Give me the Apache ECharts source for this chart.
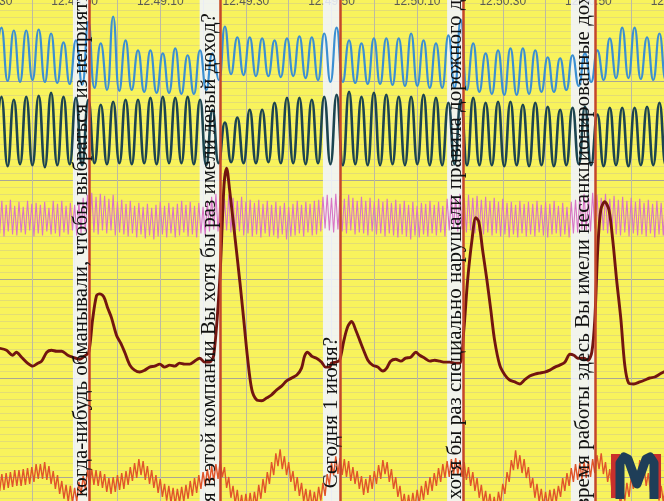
<!DOCTYPE html>
<html><head><meta charset="utf-8">
<script src="https://cdn.jsdelivr.net/npm/echarts@6/dist/echarts.min.js"></script>
<style>html,body{margin:0;padding:0;background:#f8f35c;overflow:hidden}#c{width:664px;height:501px}</style>
</head><body><div id="c"></div>
<script>
// ---- data (seconds after 12:48:00, channel values in chart units) ----
const timeLabels = ['12.48.30','12.48.50','12.49.10','12.49.30','12.49.50','12.50.10','12.50.30','12.50.50','12.51.10'];

const breathStart = 31.45, breathStep = 1.45;
const upperBreath = [
50.1,55.4,50.0,55.1,49.9,55.1,50.1,55.2,49.9,54.8,
49.8,53.9,49.7,54.1,49.6,56.0,49.3,53.8,49.1,56.5,
49.0,54.1,49.1,53.1,48.9,53.1,48.8,52.8,48.8,53.3,
48.7,52.6,48.7,53.1,49.1,52.8,50.1,55.5,50.7,54.4,
50.6,54.4,50.5,54.3,50.5,54.1,50.4,54.3,50.5,54.5,
50.3,54.4,50.1,54.8,49.9,55.4,49.9,54.1,49.8,53.8,
49.7,54.3,49.7,54.3,49.6,54.3,49.5,54.8,49.5,54.1,
49.3,53.8,49.3,54.6,49.3,56.2,49.1,53.8,48.9,52.8,
48.7,53.1,48.6,53.3,48.6,53.3,48.7,53.1,48.9,52.4,
48.9,52.3,49.1,52.6,49.5,52.8,49.9,53.1,50.1,54.3,
50.3,55.4,50.3,55.4,50.2,54.4,50.1,54.8,50.1,54.6];
const lowerBreath = [
41.5,48.4,41.4,48.1,41.6,48.4,41.5,48.5,41.3,48.8,
41.5,48.4,41.6,48.3,41.5,48.1,41.7,47.6,41.6,47.9,
41.7,48.1,41.6,48.1,41.7,48.3,41.6,48.4,41.7,48.3,
41.7,48.4,41.6,48.1,41.5,47.1,41.7,45.8,41.8,46.3,
41.7,47.1,41.7,47.1,41.8,47.8,41.7,48.3,41.7,48.3,
41.6,48.1,41.7,48.4,41.6,48.6,41.5,48.9,41.6,48.4,
41.5,48.8,41.5,48.6,41.6,48.4,41.5,48.4,41.6,48.6,
41.5,48.3,41.5,47.8,41.6,48.1,41.5,48.3,41.5,47.8,
41.5,47.9,41.4,47.9,41.5,47.6,41.4,47.8,41.5,47.4,
41.4,47.1,41.5,47.3,41.6,47.4,41.5,46.6,41.4,47.3,
41.5,47.3,41.4,47.3,41.5,47.4,41.5,47.8,41.5,47.8];

const fastStart = 32, fastStep = 0.5;
const pulsePink = [
37.6,34.6,37.9,34.3,37.5,34.8,38.0,34.5,37.4,34.4,
37.8,34.7,37.3,34.5,37.9,34.9,37.6,34.3,37.7,34.6,
37.5,34.4,37.8,34.8,37.2,34.5,37.9,34.6,37.6,34.3,
37.9,34.7,37.4,34.5,37.7,34.9,37.5,34.4,37.8,34.6,
38.2,34.8,38.5,35.0,38.7,34.7,38.3,34.5,38.6,34.9,
38.4,34.6,38.1,34.9,38.5,34.4,37.8,34.7,38.0,34.5,
37.6,34.3,37.9,34.6,37.4,34.2,37.7,34.5,37.3,34.1,
37.6,34.4,37.2,34.0,37.5,34.3,37.8,34.5,37.4,34.2,
37.7,34.6,37.3,34.2,37.6,34.4,37.9,34.7,37.5,34.3,
37.8,34.5,37.4,34.2,37.7,34.6,37.3,34.4,37.9,34.8,
38.3,35.0,38.6,34.8,38.4,34.6,38.1,34.9,38.5,34.7,
38.2,34.5,37.9,34.8,38.3,34.4,37.8,34.6,38.0,34.3,
37.7,34.5,38.0,34.2,37.6,34.6,37.9,34.3,37.5,34.4,
37.8,34.1,37.4,34.5,37.7,34.0,37.3,34.3,37.6,34.4,
37.9,34.6,37.5,34.3,37.8,34.7,37.6,34.4,37.9,34.5,
38.0,34.8,38.3,35.1,38.5,34.9,38.2,34.7,38.6,35.0,
38.4,34.8,38.1,34.6,38.5,34.9,38.2,34.5,37.9,34.7,
38.3,34.6,37.9,34.4,38.2,34.8,37.8,34.5,38.1,34.6,
37.8,34.3,38.1,34.6,37.7,34.4,38.0,34.2,37.6,34.5,
37.9,34.3,37.5,34.0,37.8,34.4,37.4,34.2,37.7,34.5,
37.6,34.3,37.9,34.6,37.5,34.4,37.8,34.7,37.4,34.3,
38.1,34.9,38.5,35.1,38.3,34.8,38.6,35.0,38.2,34.7,
38.5,34.9,38.2,34.6,38.4,34.8,38.0,34.5,38.3,34.7,
37.9,34.4,38.2,34.6,37.8,34.3,38.1,34.5,37.7,34.2,
37.8,34.5,37.5,34.2,37.9,34.6,37.6,34.3,37.8,34.5,
37.6,34.3,37.9,34.7,37.5,34.4,37.8,34.2,37.6,34.5,
37.9,34.6,37.4,34.3,37.7,34.5,37.3,34.2,37.8,34.6,
38.0,34.7,38.4,35.0,38.6,34.9,38.3,34.8,38.7,35.1,
38.5,34.7,38.2,34.9,38.6,34.6,38.1,34.8,38.4,34.5,
38.0,34.4,38.3,34.7,37.9,34.3,38.2,34.6,37.8,34.4,
38.1,34.5,37.7,34.3,38.0,34.6,37.6,34.2,37.9,34.5,
37.7,34.4,38.0,34.6,37.8];
const pulseOrange = [
10.1,8.6,10.3,8.7,10.4,8.9,10.5,9.0,10.7,9.1,
10.7,9.1,10.8,9.2,10.9,9.3,11.0,9.5,11.3,9.8,
11.3,9.8,11.5,9.7,11.1,9.3,10.6,8.8,10.2,8.3,
9.6,7.8,9.2,7.5,9.1,7.4,8.9,7.5,9.5,8.2,
10.1,8.8,10.7,9.2,10.8,9.2,10.7,9.1,10.6,8.9,
10.3,8.5,9.9,8.3,10.0,8.5,10.2,8.7,10.4,8.8,
10.6,9.2,11.0,9.6,11.4,9.9,11.8,10.2,11.6,9.7,
11.1,9.3,10.7,8.9,10.2,8.4,9.8,8.0,9.3,7.6,
9.1,7.4,8.9,7.2,8.8,7.4,9.0,7.5,9.2,7.8,
9.6,8.1,9.9,8.4,10.2,8.8,10.5,9.1,10.8,9.4,
11.1,9.6,11.3,9.8,11.6,10.0,11.0,8.9,10.0,7.9,
9.1,7.3,8.7,6.8,8.2,6.6,8.3,6.7,8.4,6.8,
8.5,7.1,9.2,7.8,9.8,8.4,10.5,9.3,11.5,10.2,
12.4,11.1,12.8,10.8,12.1,10.2,11.5,9.5,10.6,8.6,
10.0,8.1,9.4,7.5,8.8,7.1,8.7,7.0,8.5,7.1,
9.0,7.6,9.4,8.1,10.3,9.2,11.4,10.2,12.1,10.3,
11.9,10.2,11.8,10.0,11.6,9.6,11.0,9.3,10.6,8.8,
10.1,8.2,9.8,8.4,10.2,8.8,10.6,9.3,11.2,9.8,
11.7,10.3,11.5,9.5,10.8,8.8,10.0,8.0,9.1,7.1,
8.3,6.6,8.2,6.7,8.4,6.9,8.7,7.3,9.1,7.7,
9.6,8.2,10.0,8.6,10.4,9.1,10.9,9.5,11.3,9.9,
11.6,10.0,11.8,10.2,11.9,10.2,11.7,10.0,11.5,9.7,
11.0,9.1,10.5,8.6,9.9,7.9,9.2,7.3,8.6,6.9,
8.3,6.6,8.0,6.6,8.5,7.3,9.3,8.3,10.5,9.5,
11.7,10.7,12.7,10.8,12.2,10.4,11.8,9.9,11.0,8.9,
9.9,7.9,9.3,7.5,8.8,7.0,8.5,7.0,8.7,7.2,
8.8,7.5,9.1,8.0,9.9,8.6,10.4,9.1,10.9,9.5,
11.3,9.7,11.4,9.8,11.5,9.9,11.6,10.0,11.8,10.4,
12.2,10.8,12.4,10.3,11.5,9.5,10.8,8.7,9.9,7.9,
8.9,7.1,8.9,7.6,9.4,8.0,10.0,8.8,10.8,9.6,
11.7,9.8,11.1,9.1,10.4,8.5,9.9,8.0,9.4,7.6,
9.1,7.5,9.1,7.4,9.0];

const gsrTime = [
32.5,34.1,35.5,36.4,37.6,39.0,40.2,41.4,42.3,43.5,
44.6,45.8,47.0,48.4,49.5,51.2,52.3,53.3,54.2,55.1,
55.8,56.8,57.7,58.6,59.8,60.8,61.7,62.9,64.0,65.2,
66.4,67.5,68.7,69.9,71.0,72.2,73.4,74.5,75.7,76.9,
78.0,79.2,80.4,81.5,82.5,83.9,84.9,85.5,86.2,87.4,
88.6,89.5,90.4,91.4,92.5,93.7,94.9,96.0,97.2,98.4,
99.5,100.7,101.9,103.0,103.7,104.4,105.4,106.5,107.7,108.6,
109.6,110.0,111.0,111.9,112.9,113.8,114.7,115.7,116.6,117.5,
118.5,119.6,120.8,122.0,122.9,123.8,125.0,126.2,127.3,128.5,
129.7,130.6,131.8,133.0,134.1,135.3,136.5,137.6,138.8,140.0,
140.9,141.8,142.8,143.7,144.4,145.3,146.3,147.2,148.1,149.3,
150.5,151.6,152.8,154.0,155.1,156.3,157.5,158.6,159.8,161.0,
162.2,163.3,164.5,165.7,166.6,167.5,168.9,169.9,170.8,171.5,
172.2,172.9,173.8,174.8,175.7,176.6,177.6,178.5,179.4,180.6,
182.0,183.2,184.3,185.5,186.7,187.6,189.0];
const gsrValue = [
23.0,22.8,22.3,22.6,22.1,21.5,21.2,21.5,21.7,22.6,
22.8,22.7,22.7,22.3,22.1,21.9,22.2,22.6,25.9,28.3,
28.5,28.2,27.1,26.1,24.3,23.5,22.6,21.3,20.8,20.6,
20.8,21.1,21.2,21.4,21.1,21.3,21.2,21.5,21.4,21.4,
21.7,22.0,21.6,21.6,22.3,29.9,39.5,41.2,39.0,34.4,
29.7,25.9,22.0,18.8,17.8,17.7,18.0,18.3,18.8,19.2,
19.7,20.0,20.3,21.0,22.2,22.6,22.2,22.0,21.6,21.1,
21.1,21.5,21.6,21.8,23.8,25.2,25.7,24.8,23.8,22.8,
21.8,21.3,21.1,20.7,21.0,21.7,21.9,21.7,22.0,22.1,
22.6,22.3,22.0,21.7,21.8,21.7,21.6,21.6,21.5,21.5,
24.8,29.9,33.9,36.2,35.8,32.9,29.9,26.9,23.8,21.3,
20.3,19.8,19.6,19.4,19.8,20.2,20.4,20.5,20.6,20.8,
21.1,21.3,21.6,22.4,22.3,22.0,22.0,21.8,22.6,25.9,
33.1,37.0,37.8,37.0,33.9,29.9,25.9,21.3,19.5,19.4,
19.6,19.8,20.0,20.1,20.4,20.6,20.9];

const eventStart = [49.6, 79.2, 108.0, 137.0, 165.9];
const eventMark = [53.4, 83.9, 112.0, 140.8, 171.6];
const questions = [
  'Вы когда-нибудь обманывали, чтобы выбраться из неприятностей?',
  'Работая в этой компании Вы хотя бы раз имели левый доход?',
  'Сегодня 1 июня?',
  'Вы хотя бы раз специально нарушали правила дорожного движения?',
  'За время работы здесь Вы имели несанкционированные доходы?'
];

// ---- layout for question captions (visible part placement) ----
const capPrefix = ['Вы ', 'Работая в этой компании ', 'Сегодня 1 июня?', 'Вы хотя бы раз ', 'За время работы здесь '];
const capPrefixEndY = [497, 335, 337, 392, 328];
const capFont = '21px "Liberation Serif", "DejaVu Serif", serif';

const seq = (start, step, arr) => arr.map((v, i) => [+(start + i * step).toFixed(3), v]);

const chart = echarts.init(document.getElementById('c'), null, {renderer: 'canvas'});
const lineBase = {type: 'line', symbol: 'none', showSymbol: false, silent: true, z: 2};
chart.setOption({
  animation: false,
  backgroundColor: '#f8f35c',
  grid: {left: -11, right: -10, top: -18, bottom: -75, containLabel: false, outerBoundsMode: 'none'},
  xAxis: {
    type: 'value', position: 'top', min: 30, max: 190, interval: 10,
    axisLine: {show: false}, axisTick: {show: false},
    axisLabel: {
      inside: true, margin: 14, color: '#5c5c52', fontSize: 12,
      fontFamily: '"Liberation Sans", Arial, sans-serif',
      showMinLabel: true, showMaxLabel: true,
      formatter: v => ((Math.round(v) - 30) % 20 === 0 ? (timeLabels[Math.round((v - 30) / 20)] || '') : '')
    },
    splitLine: {show: true, lineStyle: {color: '#bdbaa2', width: 1}}
  },
  yAxis: {
    type: 'value', min: 0, max: 60, interval: 10,
    axisLine: {show: false}, axisTick: {show: false}, axisLabel: {show: false},
    splitLine: {show: true, lineStyle: {color: '#a9a796', width: 1}},
    minorTick: {show: false, splitNumber: 14},
    minorSplitLine: {show: true, lineStyle: {color: '#e3dd74', width: 1}}
  },
  series: [
    Object.assign({}, lineBase, {name: 'pulse', data: seq(fastStart, fastStep, pulsePink), lineStyle: {color: '#d874c6', width: 1.1}}),
    Object.assign({}, lineBase, {name: 'upper', data: seq(breathStart, breathStep, upperBreath), smooth: 0.5, lineStyle: {color: '#3b8fd2', width: 2.2}}),
    Object.assign({}, lineBase, {name: 'lower', data: seq(breathStart, breathStep, lowerBreath), smooth: 0.5, lineStyle: {color: '#1c4450', width: 2.6}}),
    Object.assign({}, lineBase, {name: 'plethysmo', data: seq(fastStart, fastStep, pulseOrange), lineStyle: {color: '#e0552a', width: 1.4}}),
    Object.assign({}, lineBase, {name: 'gsr', data: gsrTime.map((t, i) => [t, gsrValue[i]]), smooth: 0.3, lineStyle: {color: '#721510', width: 2.9}}),
    {
      type: 'line', name: 'events', data: [], z: 4, silent: true,
      markArea: {silent: true, itemStyle: {color: 'rgba(240,244,255,0.88)'},
        data: eventStart.map((s, i) => [{xAxis: s}, {xAxis: eventMark[i]}])},
      markLine: {silent: true, symbol: 'none', label: {show: false},
        lineStyle: {color: '#c4462a', width: 2.5, type: 'solid'},
        data: eventMark.map(x => ({xAxis: x}))}
    }
  ]
});

const meas = document.createElement('canvas').getContext('2d');
meas.font = capFont;
const elements = questions.map((q, i) => {
  const xc = chart.convertToPixel({gridIndex: 0}, [(eventStart[i] + eventMark[i]) / 2, 30])[0];
  const y0 = capPrefixEndY[i] + meas.measureText(capPrefix[i]).width;
  return {type: 'text', x: xc, y: y0, rotation: Math.PI / 2, z: 100, silent: true,
    style: {text: q, font: capFont, fill: '#111', align: 'left', verticalAlign: 'middle'}};
});
elements.push(
  {type: 'rect', z: 100, silent: true, shape: {x: 611, y: 454, width: 9, height: 44}, style: {fill: '#c9302c'}},
  {type: 'rect', z: 100, silent: true, shape: {x: 652, y: 454, width: 9, height: 44}, style: {fill: '#c9302c'}},
  {type: 'polyline', z: 101, silent: true,
    shape: {points: [[620, 499], [620, 463], [624, 457], [628, 459], [637, 484], [646, 459], [650, 457], [654, 463], [654, 499]]},
    style: {stroke: '#1f3e58', lineWidth: 9, fill: null, lineJoin: 'round'}}
);
chart.setOption({graphic: {elements: elements}});
</script>
</body></html>
